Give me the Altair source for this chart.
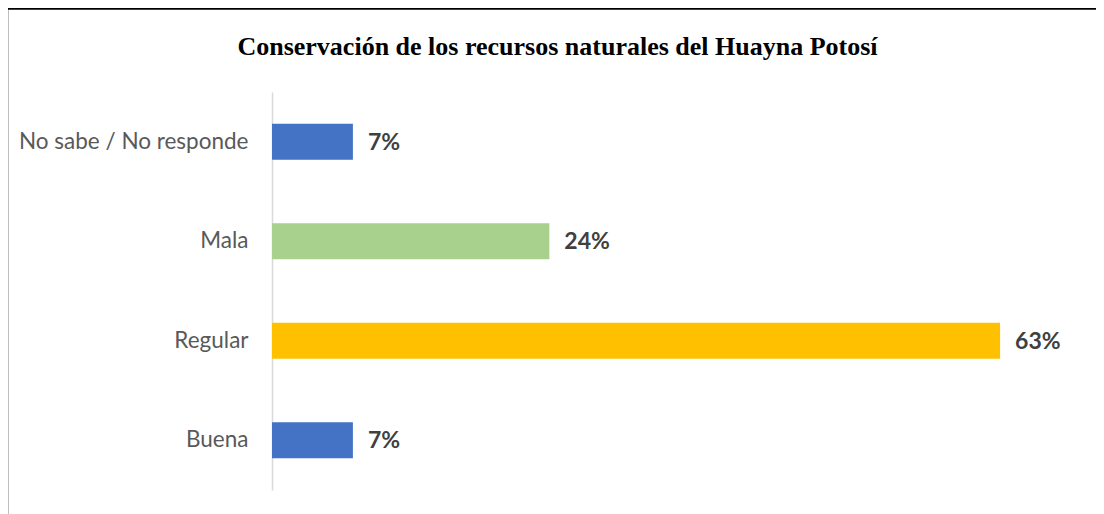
import altair as alt
import pandas as pd

TITLE = "Conservación de los recursos naturales del Huayna Potosí"
categories = ["No sabe / No responde", "Mala", "Regular", "Buena"]
values = [7, 24, 63, 7]
labels = ["7%", "24%", "63%", "7%"]
colors = ["#4472C4", "#A9D18E", "#FFC000", "#4472C4"]

df = pd.DataFrame({"cat": categories, "val": values, "lab": labels, "col": colors})
tdf = pd.DataFrame({"t": [TITLE]})

W, H = 809, 398
PL, PT, PR, PB = 264, 84, 15, 24

y_enc = alt.Y("cat:N", sort=categories, title=None,
              scale=alt.Scale(paddingInner=0.64, paddingOuter=0.32),
              axis=alt.Axis(domainColor="#D9D9D9", domainWidth=1.5, ticks=False,
                            labelFont="Lato", labelFontSize=22.5, labelColor="#595959",
                            labelPadding=24, labelLimit=0, grid=False))
x_enc = alt.X("val:Q", title=None, scale=alt.Scale(domain=[0, 70], nice=False), axis=None)

bars = alt.Chart(df).mark_bar().encode(
    x=x_enc, y=y_enc, color=alt.Color("col:N", scale=None)
)
text = alt.Chart(df).mark_text(align="left", baseline="middle", dx=15, dy=1,
                               font="Lato", fontSize=23, fontWeight="bold",
                               color="#404040").encode(
    x=x_enc, y=alt.Y("cat:N", sort=categories), text="lab:N"
)
frame = alt.Chart(tdf).mark_rect(fill=None, stroke="black", strokeWidth=2.5).encode(
    x=alt.value(-PL - 1), x2=alt.value(W + PR + 40),
    y=alt.value(-PT + 0.5), y2=alt.value(H + PB + 40)
)
title = alt.Chart(tdf).mark_text(align="center", baseline="alphabetic",
                                 font="Liberation Serif", fontSize=26,
                                 fontWeight="bold", color="#000000").encode(
    x=alt.value(285.5), y=alt.value(-37), text="t:N"
)

chart = alt.layer(frame, title, bars, text).properties(
    width=W, height=H,
    padding={"left": PL, "top": PT, "right": PR, "bottom": PB},
    autosize=alt.AutoSizeParams(type="none"),
).configure_view(stroke=None)

chart.save("out.html", embed_options={"renderer": "svg", "actions": False})
